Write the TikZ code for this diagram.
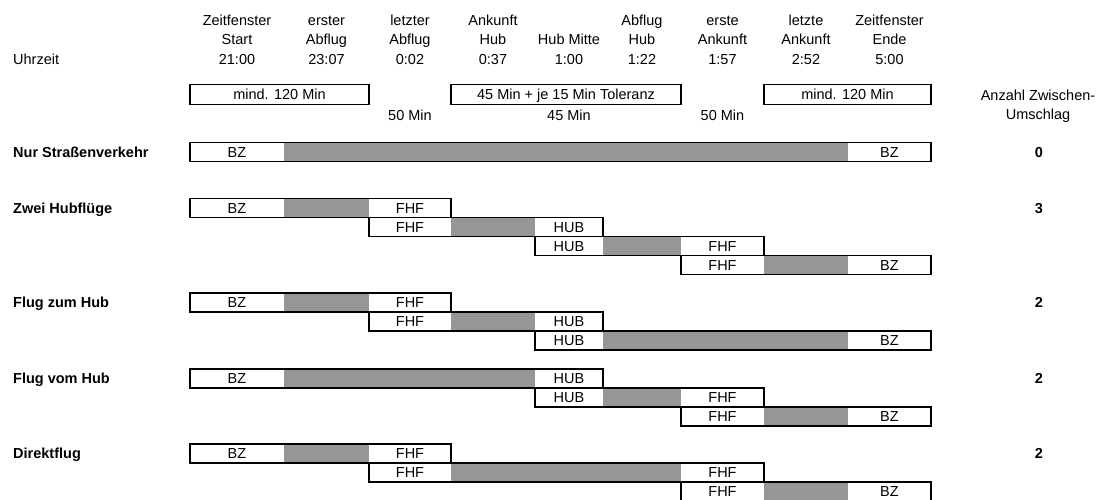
\documentclass[tikz,border=0pt]{standalone}
\usepackage{fontspec}
\setmainfont{Liberation Sans}
\usepackage{tikz}

\definecolor{laufgrau}{RGB}{150,150,150}

\begin{document}
\begin{tikzpicture}[x=1pt,y=1pt,yscale=-1,xscale=1,
  txt/.style={inner sep=0pt,anchor=base,font=\fontsize{14.5}{17}\selectfont},
  fett/.style={inner sep=0pt,anchor=base,font=\fontsize{14.5}{17}\selectfont\bfseries},
  rahmen/.style={draw=black,line width=1.8pt},
  lauf/.style={fill=laufgrau},
  kasten/.style={draw=black,line width=1.8pt,inner sep=0pt,minimum height=20,text height=10.4,text depth=0pt,font=\fontsize{14.5}{17}\selectfont}]
\useasboundingbox (0,0) rectangle (1102,500);
% Text Node
\node[txt,anchor=base west] (uhr) at (13,64.2) {Uhrzeit};
% Text Node
\node[txt] (k1a) at (237,25.2) {Zeitfenster};
\node[txt] (k1b) at (237,44.7) {Start};
\node[txt] (k1c) at (237,64.2) {21:00};
% Text Node
\node[txt] (k2a) at (326.5,25.2) {erster};
\node[txt] (k2b) at (326.5,44.7) {Abflug};
\node[txt] (k2c) at (326.5,64.2) {23:07};
% Text Node
\node[txt] (k3a) at (410,25.2) {letzter};
\node[txt] (k3b) at (410,44.7) {Abflug};
\node[txt] (k3c) at (410,64.2) {0:02};
% Text Node
\node[txt] (k4a) at (493,25.2) {Ankunft};
\node[txt] (k4b) at (493,44.7) {Hub};
\node[txt] (k4c) at (493,64.2) {0:37};
% Text Node
\node[txt] (k5b) at (569,44.7) {Hub Mitte};
\node[txt] (k5c) at (569,64.2) {1:00};
% Text Node
\node[txt] (k6a) at (642,25.2) {Abflug};
\node[txt] (k6b) at (642,44.7) {Hub};
\node[txt] (k6c) at (642,64.2) {1:22};
% Text Node
\node[txt] (k7a) at (722.5,25.2) {erste};
\node[txt] (k7b) at (722.5,44.7) {Ankunft};
\node[txt] (k7c) at (722.5,64.2) {1:57};
% Text Node
\node[txt] (k8a) at (806,25.2) {letzte};
\node[txt] (k8b) at (806,44.7) {Ankunft};
\node[txt] (k8c) at (806,64.2) {2:52};
% Text Node
\node[txt] (k9a) at (889.5,25.2) {Zeitfenster};
\node[txt] (k9b) at (889.5,44.7) {Ende};
\node[txt] (k9c) at (889.5,64.2) {5:00};
%Shape: Rectangle
\node[kasten,minimum width=179] (min1) at (279.5,94.5) {mind. 120 Min};
\node[kasten,minimum width=230] (tol) at (566,94.5) {45 Min + je 15 Min Toleranz};
\node[kasten,minimum width=167] (min2) at (847.5,94.5) {mind. 120 Min};
% Text Node
\node[txt] (d1) at (410,120.7) {50 Min};
\node[txt] (d2) at (569,120.7) {45 Min};
\node[txt] (d3) at (722.5,120.7) {50 Min};
\node[txt] (anz1) at (1038,100.2) {Anzahl Zwischen-};
\node[txt] (anz2) at (1038,119.5) {Umschlag};
% Text Node
\node[fett,anchor=base west] (nur) at (13,157.3) {Nur Straßenverkehr};
\node[fett,anchor=base west] (zwei) at (13,213.2) {Zwei Hubflüge};
\node[fett,anchor=base west] (zum) at (13,307.7) {Flug zum Hub};
\node[fett,anchor=base west] (vom) at (13,383.7) {Flug vom Hub};
\node[fett,anchor=base west] (dir) at (13,458.7) {Direktflug};
% Text Node
\node[fett] (an0) at (1039,157.3) {0};
\node[fett] (an1) at (1039,213.2) {3};
\node[fett] (an2) at (1039,307.7) {2};
\node[fett] (an3) at (1039,383.7) {2};
\node[fett] (an4) at (1039,458.7) {2};

%Nur Strassenverkehr
\fill[lauf] (284,142.5) rectangle (848,161.5);
\draw[rahmen] (190,142.5) rectangle (931,161.5);
\node[txt] (n1a) at (237,157.3) {BZ};
\node[txt] (n1b) at (889.5,157.3) {BZ};

%Zwei Hubfluege
\fill[lauf] (284,198.5) rectangle (369,217.5);
\draw[rahmen] (190,198.5) rectangle (451,217.5);
\node[txt] (z1a) at (237,213.2) {BZ};
\node[txt] (z1b) at (410,213.2) {FHF};
\fill[lauf] (451,217.5) rectangle (535,236.5);
\draw[rahmen] (369,217.5) rectangle (603,236.5);
\node[txt] (z2a) at (410,232.2) {FHF};
\node[txt] (z2b) at (569,232.2) {HUB};
\fill[lauf] (603,236.5) rectangle (681,255.5);
\draw[rahmen] (535,236.5) rectangle (764,255.5);
\node[txt] (z3a) at (569,251.2) {HUB};
\node[txt] (z3b) at (722.5,251.2) {FHF};
\fill[lauf] (764,255.5) rectangle (848,274.5);
\draw[rahmen] (681,255.5) rectangle (931,274.5);
\node[txt] (z4a) at (722.5,270.2) {FHF};
\node[txt] (z4b) at (889.5,270.2) {BZ};

%Flug zum Hub
\fill[lauf] (284,293) rectangle (369,312);
\draw[rahmen] (190,293) rectangle (451,312);
\node[txt] (h1a) at (237,307.7) {BZ};
\node[txt] (h1b) at (410,307.7) {FHF};
\fill[lauf] (451,312) rectangle (535,331);
\draw[rahmen] (369,312) rectangle (603,331);
\node[txt] (h2a) at (410,326.7) {FHF};
\node[txt] (h2b) at (569,326.7) {HUB};
\fill[lauf] (603,331) rectangle (848,350);
\draw[rahmen] (535,331) rectangle (931,350);
\node[txt] (h3a) at (569,345.7) {HUB};
\node[txt] (h3b) at (889.5,345.7) {BZ};

%Flug vom Hub
\fill[lauf] (284,369) rectangle (535,388);
\draw[rahmen] (190,369) rectangle (603,388);
\node[txt] (v1a) at (237,383.7) {BZ};
\node[txt] (v1b) at (569,383.7) {HUB};
\fill[lauf] (603,388) rectangle (681,407);
\draw[rahmen] (535,388) rectangle (764,407);
\node[txt] (v2a) at (569,402.7) {HUB};
\node[txt] (v2b) at (722.5,402.7) {FHF};
\fill[lauf] (764,407) rectangle (848,426);
\draw[rahmen] (681,407) rectangle (931,426);
\node[txt] (v3a) at (722.5,421.7) {FHF};
\node[txt] (v3b) at (889.5,421.7) {BZ};

%Direktflug
\fill[lauf] (284,444) rectangle (369,463);
\draw[rahmen] (190,444) rectangle (451,463);
\node[txt] (r1a) at (237,458.7) {BZ};
\node[txt] (r1b) at (410,458.7) {FHF};
\fill[lauf] (451,463) rectangle (681,482);
\draw[rahmen] (369,463) rectangle (764,482);
\node[txt] (r2a) at (410,477.7) {FHF};
\node[txt] (r2b) at (722.5,477.7) {FHF};
\fill[lauf] (764,482) rectangle (848,501);
\draw[rahmen] (681,482) rectangle (931,501);
\node[txt] (r3a) at (722.5,496.7) {FHF};
\node[txt] (r3b) at (889.5,496.7) {BZ};
\end{tikzpicture}
\end{document}
